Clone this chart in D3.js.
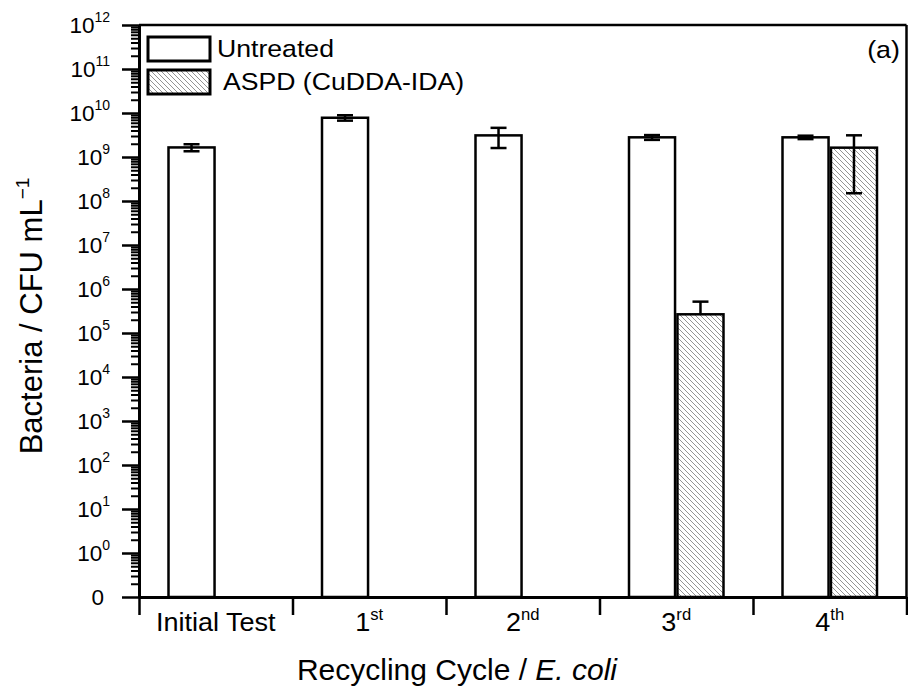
<!DOCTYPE html>
<html>
<head>
<meta charset="utf-8">
<script src="https://cdn.jsdelivr.net/npm/d3@7"></script>
<style>
  html, body { margin: 0; padding: 0; background: #fff; }
  svg { display: block; }
  text { font-family: "Liberation Sans", Arial, sans-serif; fill: #000; }
</style>
</head>
<body>
<svg id="chart" width="908" height="689"></svg>
<script>
// ---- data ----
const categories = ["Initial Test", "1", "2", "3", "4"];
const categorySup = ["", "st", "nd", "rd", "th"];
const untreated = [1.65e9, 7.8e9, 3.1e9, 2.8e9, 2.8e9];
const untreatedErr = [0.3e9, 1.1e9, 1.5e9, 0.35e9, 0.25e9];
const aspd = [null, null, null, 2.66e5, 1.63e9];
const aspdErrUp = [null, null, null, 2.5e5, 1.48e9];
const aspdErrDown = [null, null, null, 0, 1.48e9];
const yExponents = [0,1,2,3,4,5,6,7,8,9,10,11,12];
const yZeroLabel = "0";
const seriesNames = ["Untreated", " ASPD (CuDDA-IDA)"];

// ---- layout ----
const svg = d3.select("#chart");
const L = 139, R = 906.5, T = 25, B = 597;

const defs = svg.append("defs");
const pat = defs.append("pattern").attr("id", "hatch")
  .attr("patternUnits", "userSpaceOnUse").attr("width", 5).attr("height", 5);
pat.append("rect").attr("width", 5).attr("height", 5).attr("fill", "#fff");
pat.append("path").attr("d", "M0,0 L5,5 M-1,4 L1,6 M4,-1 L6,1")
  .attr("stroke", "#888").attr("stroke-width", 0.9);

const x = d3.scaleBand().domain(d3.range(categories.length)).range([L, R]).padding(0);
const xl = d3.scaleLinear().domain([0, categories.length]).range([L, R]);
const y = d3.scaleLog().domain([0.1, 1e12]).range([B, T]);

const bw = x.bandwidth() * 0.3;
const gap = 1.2;

// bars
const g = svg.append("g");
function errBar(cx, v, up, down) {
  const yt = y(v + up), yb = y(Math.max(v - down, 1e-2));
  g.append("line").attr("x1", cx).attr("x2", cx).attr("y1", yt).attr("y2", yb)
    .attr("stroke", "#000").attr("stroke-width", 2.5);
  g.append("line").attr("x1", cx - 8).attr("x2", cx + 8).attr("y1", yt).attr("y2", yt)
    .attr("stroke", "#000").attr("stroke-width", 2.5);
  if (down > 0)
    g.append("line").attr("x1", cx - 8).attr("x2", cx + 8).attr("y1", yb).attr("y2", yb)
      .attr("stroke", "#000").attr("stroke-width", 2.5);
}
categories.forEach((c, i) => {
  const cx = x(i) + x.bandwidth() / 2;
  if (untreated[i] != null) {
    g.append("rect").attr("x", cx - gap - bw).attr("width", bw)
      .attr("y", y(untreated[i])).attr("height", B - y(untreated[i]))
      .attr("fill", "#fff").attr("stroke", "#000").attr("stroke-width", 2.5);
    errBar(cx - gap - bw / 2, untreated[i], untreatedErr[i], untreatedErr[i]);
  }
  if (aspd[i] != null) {
    g.append("rect").attr("x", cx + gap).attr("width", bw)
      .attr("y", y(aspd[i])).attr("height", B - y(aspd[i]))
      .attr("fill", "url(#hatch)").attr("stroke", "#000").attr("stroke-width", 2.5);
    errBar(cx + gap + bw / 2, aspd[i], aspdErrUp[i], aspdErrDown[i]);
  }
});

// frame top / right
svg.append("line").attr("x1", L).attr("x2", R).attr("y1", T).attr("y2", T)
  .attr("stroke", "#000").attr("stroke-width", 2.5);
svg.append("line").attr("x1", R).attr("x2", R).attr("y1", T).attr("y2", B)
  .attr("stroke", "#000").attr("stroke-width", 2.5);

// y axis
const majors = [0.1].concat(yExponents.map(e => Math.pow(10, e)));
const minors = [];
for (let e = -1; e < 12; e++) for (let k = 2; k <= 9; k++) minors.push(k * Math.pow(10, e));

const yMinor = svg.append("g").attr("transform", `translate(${L},0)`)
  .call(d3.axisLeft(y).tickValues(minors).tickSize(8).tickSizeOuter(0).tickFormat(""));
yMinor.select(".domain").remove();
yMinor.selectAll(".tick line").attr("stroke-width", 2);
const yAxis = svg.append("g").attr("transform", `translate(${L},0)`)
  .call(d3.axisLeft(y).tickValues(majors).tickSize(17).tickSizeOuter(0).tickFormat(""));
yAxis.select(".domain").attr("stroke-width", 3);
yAxis.selectAll(".tick line").attr("stroke-width", 2.5);

// y tick labels
const yl = svg.append("g");
yExponents.forEach(e => {
  const t = yl.append("text").attr("x", 110).attr("y", y(Math.pow(10, e)) + 8)
    .attr("text-anchor", "end").style("font-size", "22.5px");
  t.append("tspan").text("10");
  t.append("tspan").attr("dy", -11).style("font-size", "14px").text(String(e));
});
yl.append("text").attr("x", 104).attr("y", y(0.1) + 8).attr("text-anchor", "end")
  .style("font-size", "22.5px").text(yZeroLabel);

// x axis
const xAxis = svg.append("g").attr("transform", `translate(0,${B})`)
  .call(d3.axisBottom(xl).tickValues(d3.range(categories.length + 1)).tickSize(18).tickSizeOuter(0).tickFormat(""));
xAxis.select(".domain").attr("stroke-width", 3);
xAxis.selectAll(".tick line").attr("stroke-width", 2.5);

categories.forEach((c, i) => {
  const cx = x(i) + x.bandwidth() / 2;
  const t = svg.append("text").attr("transform", `translate(${cx},631) scale(1.04,1)`)
    .attr("text-anchor", "middle").style("font-size", "26px");
  t.append("tspan").text(c);
  if (categorySup[i]) t.append("tspan").attr("dy", -11).style("font-size", "16px").text(categorySup[i]);
});

// axis titles
const xt = svg.append("text").attr("x", 457).attr("y", 680).attr("text-anchor", "middle")
  .style("font-size", "30px");
xt.append("tspan").text("Recycling Cycle / ");
xt.append("tspan").style("font-style", "italic").text("E. coli");

const ytl = svg.append("text").attr("transform", "translate(42,316) rotate(-90)")
  .attr("text-anchor", "middle").style("font-size", "31px");
ytl.append("tspan").text("Bacteria / CFU mL");
ytl.append("tspan").attr("dy", -13).style("font-size", "19px").text("\u22121");

// legend
const leg = svg.append("g");
seriesNames.forEach((n, i) => {
  const yy = 37 + i * 33;
  leg.append("rect").attr("x", 148).attr("y", yy).attr("width", 62).attr("height", 24)
    .attr("fill", i === 0 ? "#fff" : "url(#hatch)").attr("stroke", "#000").attr("stroke-width", 3);
  leg.append("text").attr("transform", `translate(217,${yy + 20}) scale(1.11,1)`)
    .style("font-size", "24px")
    .attr("xml:space", "preserve").style("white-space", "pre").text(n);
});

svg.append("text").attr("transform", "translate(900,58) scale(1.12,1)").attr("text-anchor", "end")
  .style("font-size", "24px").text("(a)");
</script>
</body>
</html>
